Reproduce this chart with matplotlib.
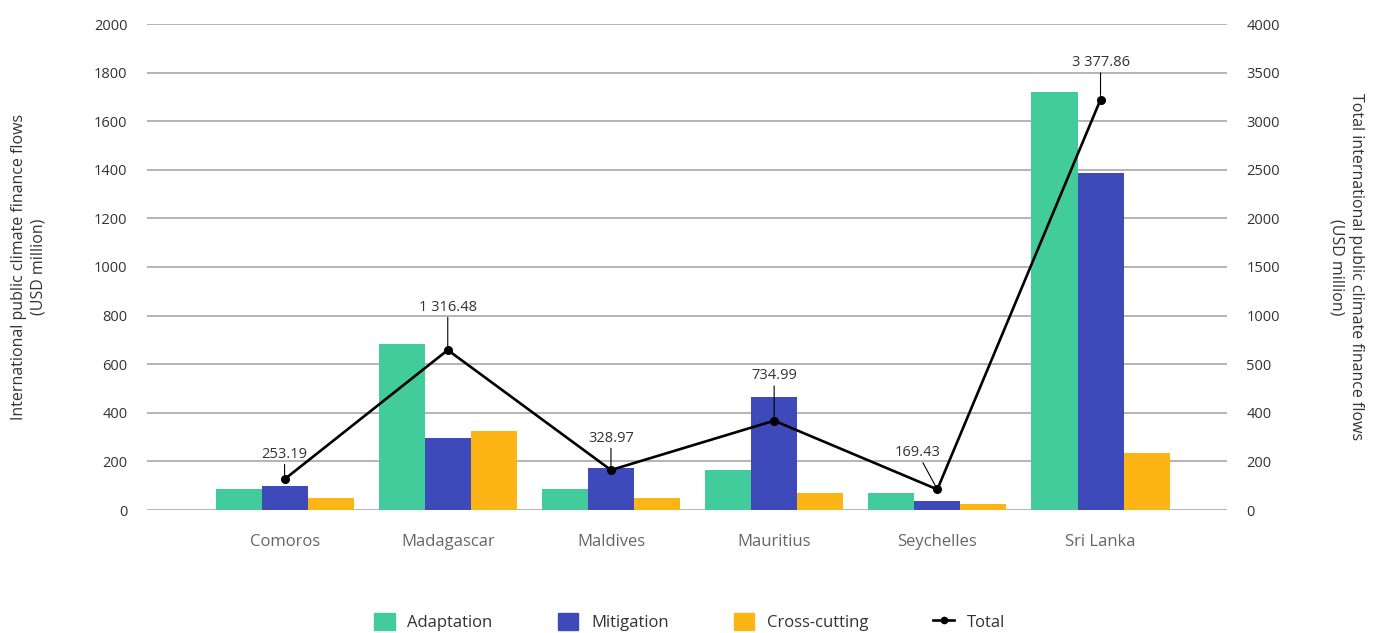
import numpy as np
import matplotlib
matplotlib.use("Agg")
import matplotlib.pyplot as plt
from matplotlib.patches import Patch
from matplotlib.lines import Line2D

plt.rcParams['font.family'] = ['Open Sans', 'DejaVu Sans']

# Climate finance flows by country (USD million)
countries = ['Comoros', 'Madagascar', 'Maldives', 'Mauritius', 'Seychelles', 'Sri Lanka']
adaptation = [86, 684, 85, 163, 72, 1720]
mitigation = [99, 296, 171, 463, 35, 1388]
cross_cutting = [49, 324, 48, 72, 23, 234]
total = [253.19, 1316.48, 328.97, 734.99, 169.43, 3377.86]
total_labels = ['253.19', '1 316.48', '328.97', '734.99', '169.43', '3 377.86']

# label offsets (pixels) for the total annotations
label_dx = [0, 0, 0, 0, -20, 0]
label_dy = [25, 43, 32, 45, 37, 37]

left_ticks = [0, 200, 400, 600, 800, 1000, 1200, 1400, 1600, 1800, 2000]
right_tick_labels = ['0', '200', '400', '500', '1000', '1500', '2000',
                     '2500', '3000', '3500', '4000']

c_adapt = '#42cc9c'
c_mitig = '#3f4aba'
c_cross = '#fdb515'
grid_c = '#a0a0a0'
txt_c = '#333333'

fig = plt.figure(figsize=(13.79, 6.33), dpi=100)
ax = fig.add_axes([147 / 1379, 1 - 510 / 633, 1080 / 1379, 486 / 633])

x = np.arange(len(countries))
w = 0.282
ax.bar(x - w, adaptation, w, color=c_adapt, zorder=2)
ax.bar(x, mitigation, w, color=c_mitig, zorder=2)
ax.bar(x + w, cross_cutting, w, color=c_cross, zorder=2)

ax.set_xlim(-0.843, 5.775)
ax.set_ylim(0, 2000)
ax.set_yticks(left_ticks)
ax.yaxis.grid(True, color=grid_c, lw=1.1, zorder=0)
ax.set_axisbelow(True)
for s in ax.spines.values():
    s.set_visible(False)
ax.set_xticks(x)
ax.set_xticklabels(countries, fontsize=12, color='#666666')
ax.tick_params(axis='x', length=0, pad=17)
ax.tick_params(axis='y', length=0, pad=14, labelsize=10.5, labelcolor=txt_c)

# total on secondary axis
ax2 = ax.twinx()
ax2.set_ylim(0, 4000)
ax2.set_yticks(np.linspace(0, 4000, 11))
ax2.set_yticklabels(right_tick_labels)
ax2.tick_params(axis='y', length=0, pad=14, labelsize=10.5, labelcolor=txt_c)
for s in ax2.spines.values():
    s.set_visible(False)
ax2.plot(x, total, color='black', lw=1.9, marker='o', ms=5.5, zorder=5)

for i, (v, lab) in enumerate(zip(total, total_labels)):
    ax2.annotate(lab, xy=(x[i], v), xytext=(label_dx[i], label_dy[i]),
                 textcoords='offset pixels', ha='center', va='center',
                 fontsize=10.5, color=txt_c,
                 arrowprops=dict(arrowstyle='-', color='black', lw=0.8,
                                 shrinkA=0, shrinkB=3))

fig.text(29 / 1379, 1 - 267 / 633,
         'International public climate finance flows\n(USD million)',
         rotation=90, ha='center', va='center', multialignment='center',
         fontsize=11.5, color=txt_c, linespacing=1.25)
fig.text(1346 / 1379, 1 - 267 / 633,
         'Total international public climate finance flows\n(USD million)',
         rotation=-90, ha='center', va='center', multialignment='center',
         fontsize=11.5, color=txt_c, linespacing=1.25)

handles = [Patch(color=c_adapt, label='Adaptation'),
           Patch(color=c_mitig, label='Mitigation'),
           Patch(color=c_cross, label='Cross-cutting'),
           Line2D([0], [0], color='black', lw=1.9, marker='o', ms=4.5, label='Total')]
fig.legend(handles=handles, loc='center', bbox_to_anchor=(0.5, 1 - 622 / 633),
           ncol=4, frameon=False, fontsize=12, handlelength=1.25, handleheight=1.25,
           handletextpad=0.75, columnspacing=3.9, labelcolor=txt_c)

fig.savefig('out.png', dpi=100)
